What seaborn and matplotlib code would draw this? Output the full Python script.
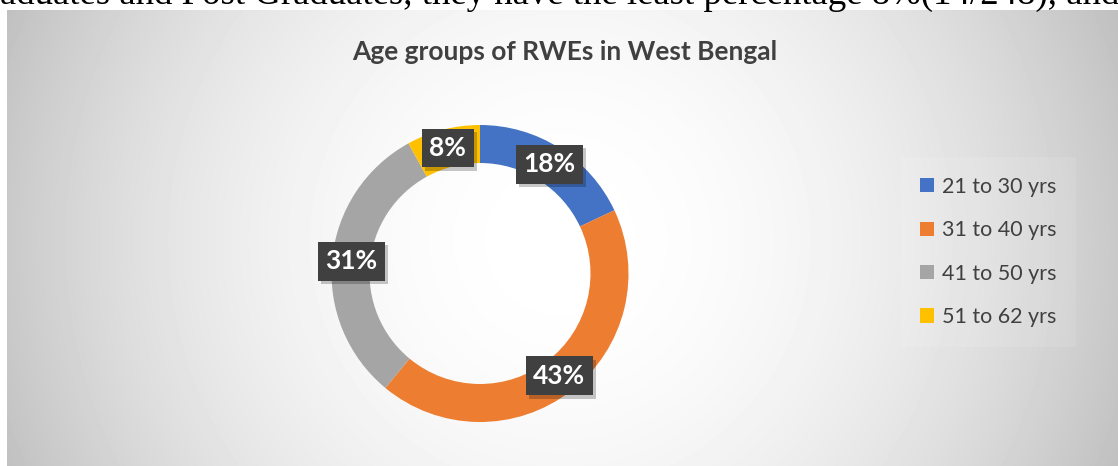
import numpy as np
import matplotlib
matplotlib.use("Agg")
import matplotlib.pyplot as plt
import matplotlib.patheffects as pe
from matplotlib.patches import Patch
import seaborn as sns

# Data
age_groups = ["21 to 30 yrs", "31 to 40 yrs", "41 to 50 yrs", "51 to 62 yrs"]
shares = [18, 43, 31, 8]
colors = ["#4472C4", "#ED7D31", "#A5A5A5", "#FFC000"]
title = "Age groups of RWEs in West Bengal"
body_line = "aduates and Post Graduates, they have the least percentage 8%(14/248), and"

sns.set_theme(style="white")
plt.rcParams["font.family"] = ["Lato", "DejaVu Sans"]
palette = sns.color_palette(colors)

W, H = 1118, 466
fig = plt.figure(figsize=(W / 100, H / 100), dpi=100)
fig.patch.set_facecolor("white")

# Soft radial grey backdrop behind the chart
bg_w, bg_h = W - 7, H - 10
bg = fig.add_axes([7 / W, 0, bg_w / W, bg_h / H])
yy, xx = np.mgrid[0:bg_h, 0:bg_w]
cx, cy = 553, 230
r2 = (xx - cx) ** 2 + (yy - cy) ** 2
shade = np.clip(255 - 1.75e-4 * r2, 0, 255) / 255
bg.imshow(shade, cmap="gray", vmin=0, vmax=1, aspect="auto", interpolation="bilinear")
bg.set_axis_off()

# Line of body text running above the chart (only its lower edge is on the page)
body = fig.text(0, 1 - 3.5 / H, body_line, ha="left", va="baseline",
                family=["Liberation Serif", "DejaVu Serif"], fontsize=20, color="black")
fig.canvas.draw()
bw = body.get_window_extent().width
body.set_fontsize(20 * (W - 2) / bw)

# Donut
cxp, cyp, rad = 480, 273.5, 148.5
ax = fig.add_axes([(cxp - rad) / W, (H - cyp - rad) / H, 2 * rad / W, 2 * rad / H])
wedges, texts, autotexts = ax.pie(
    shares, colors=palette, startangle=90, counterclock=False, radius=1,
    wedgeprops=dict(width=0.256, linewidth=0),
    autopct="%.0f%%", pctdistance=0.872,
    textprops=dict(color="white", fontweight="bold", fontsize=19),
)
for t in autotexts:
    t.set_bbox(dict(boxstyle="square,pad=0.28", facecolor="#404040",
                    edgecolor="none", linewidth=0))
    t.get_bbox_patch().set_path_effects(
        [pe.SimplePatchShadow(offset=(2.5, -2.5), shadow_rgbFace="black", alpha=0.22), pe.Normal()]
    )
ax.set_xlim(-1, 1)
ax.set_ylim(-1, 1)
ax.set_aspect("equal", adjustable="box")
ax.set_axis_off()

# Title
fig.text(565 / W, 1 - 52 / H, title, ha="center", va="center",
         fontsize=19, fontweight="bold", color="#404040")

# Legend
handles = [Patch(facecolor=c, edgecolor="none") for c in palette]
leg = fig.legend(handles, age_groups, loc="center left",
                 bbox_to_anchor=(890 / W, 1 - 252 / H),
                 frameon=True, framealpha=0.1, facecolor="white", edgecolor="none",
                 fontsize=15.5, labelcolor="#404040",
                 handlelength=0.65, handleheight=0.65, handletextpad=0.35,
                 labelspacing=1.09, borderpad=0.9, fancybox=False)

fig.savefig("out.png", dpi=100)
